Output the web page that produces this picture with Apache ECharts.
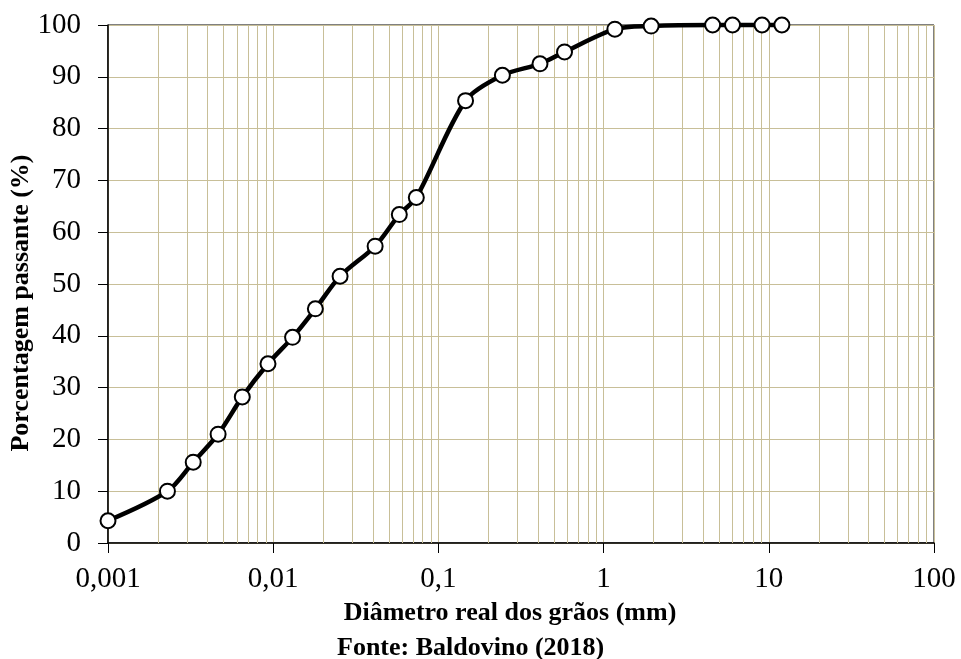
<!DOCTYPE html>
<html>
<head>
<meta charset="utf-8">
<script src="https://cdn.jsdelivr.net/npm/echarts@6/dist/echarts.min.js"></script>
<style>
html,body{margin:0;padding:0;background:#fff;}
#chart{width:961px;height:659px;}
</style>
</head>
<body>
<div id="chart"></div>
<script>
// Grain diameter (mm)
const diameters = [0.001, 0.00229, 0.00328, 0.00464, 0.0065, 0.0093, 0.0131, 0.018, 0.0254, 0.0414, 0.058, 0.0735, 0.146, 0.244, 0.412, 0.58, 1.17, 1.94, 4.57, 6.03, 9.1, 12.0];
// Percent passing (%)
const passing = [4.3, 10.0, 15.6, 21.0, 28.2, 34.6, 39.7, 45.2, 51.5, 57.3, 63.4, 66.7, 85.4, 90.3, 92.5, 94.8, 99.2, 99.8, 100, 100, 100, 100];
// Axis settings
const xTickValues = [0.001, 0.01, 0.1, 1, 10, 100];
const xTickLabels = ['0,001', '0,01', '0,1', '1', '10', '100'];
const minorMultipliers = [2, 3, 4, 5, 6, 7, 8, 9];
const xTitle = 'Diâmetro real dos grãos (mm)';
const yTitle = 'Porcentagem passante (%)';
const sourceText = 'Fonte: Baldovino (2018)';

const FONT = "'Liberation Serif', 'Times New Roman', serif";
const GRID = '#C8BF98';

const minorValues = [];
for (let d = 0; d < xTickValues.length - 1; d++) {
  for (const m of minorMultipliers) {
    minorValues.push(+(xTickValues[d] * m).toPrecision(6));
  }
}

const chart = echarts.init(document.getElementById('chart'), null, { renderer: 'canvas' });
chart.setOption({
  animation: false,
  backgroundColor: '#ffffff',
  title: {
    text: sourceText,
    left: 337,
    top: 635,
    padding: 0,
    textStyle: { fontFamily: FONT, fontWeight: 'bold', fontSize: 26, color: '#000' }
  },
  grid: {
    left: 108, right: 27, top: 25, bottom: 116,
    containLabel: false,
    outerBoundsMode: 'none',
    show: true, borderColor: '#000', borderWidth: 1, backgroundColor: 'transparent'
  },
  xAxis: {
    type: 'log',
    logBase: 10,
    min: 0.001,
    max: 100,
    name: xTitle,
    nameLocation: 'middle',
    nameGap: 57,
    nameMoveOverlap: false,
    nameTextStyle: { fontFamily: FONT, fontWeight: 'bold', fontSize: 26, color: '#000', padding: [0, 22, 0, 0] },
    axisLine: { show: true, lineStyle: { color: '#000', width: 1.5 } },
    axisTick: { show: true, inside: false, length: 10, lineStyle: { color: '#000', width: 1 } },
    axisLabel: {
      margin: 22,
      fontFamily: FONT, fontSize: 29, color: '#000',
      formatter: function (v) {
        for (let i = 0; i < xTickValues.length; i++) {
          if (Math.abs(Math.log10(v) - Math.log10(xTickValues[i])) < 1e-6) return xTickLabels[i];
        }
        return '';
      }
    },
    splitLine: { show: true, lineStyle: { color: GRID, width: 1 } },
    minorTick: { show: false },
    minorSplitLine: { show: false }
  },
  yAxis: {
    type: 'value',
    min: 0,
    max: 100,
    interval: 10,
    name: yTitle,
    nameLocation: 'middle',
    nameRotate: 90,
    nameGap: 74,
    nameMoveOverlap: false,
    nameTextStyle: { fontFamily: FONT, fontWeight: 'bold', fontSize: 26, color: '#000', padding: [0, 38, 0, 0] },
    axisLine: { show: true, lineStyle: { color: '#000', width: 1.5 } },
    axisTick: { show: true, inside: false, length: 10, lineStyle: { color: '#000', width: 1 } },
    axisLabel: { margin: 27, fontFamily: FONT, fontSize: 29, color: '#000' },
    splitLine: { show: true, lineStyle: { color: GRID, width: 1 } }
  },
  series: [
    {
      name: 'minor-grid',
      type: 'custom',
      z: 1,
      silent: true,
      data: minorValues.map(v => [v]),
      encode: { x: 0 },
      renderItem: function (params, api) {
        const p = api.coord([api.value(0), 0]);
        const top = api.coord([api.value(0), 100]);
        const x = Math.round(p[0]) + 0.5;
        return {
          type: 'line',
          shape: { x1: x, y1: top[1], x2: x, y2: p[1] },
          style: { stroke: GRID, lineWidth: 1 }
        };
      }
    },
    {
      name: 'Curva granulométrica',
      type: 'line',
      z: 5,
      clip: false,
      smooth: 0.3,
      data: diameters.map((d, i) => [d, passing[i]]),
      lineStyle: { color: '#000', width: 4.5 },
      symbol: 'circle',
      symbolSize: 15,
      itemStyle: { color: '#fff', borderColor: '#000', borderWidth: 2 }
    }
  ]
});
</script>
</body>
</html>
